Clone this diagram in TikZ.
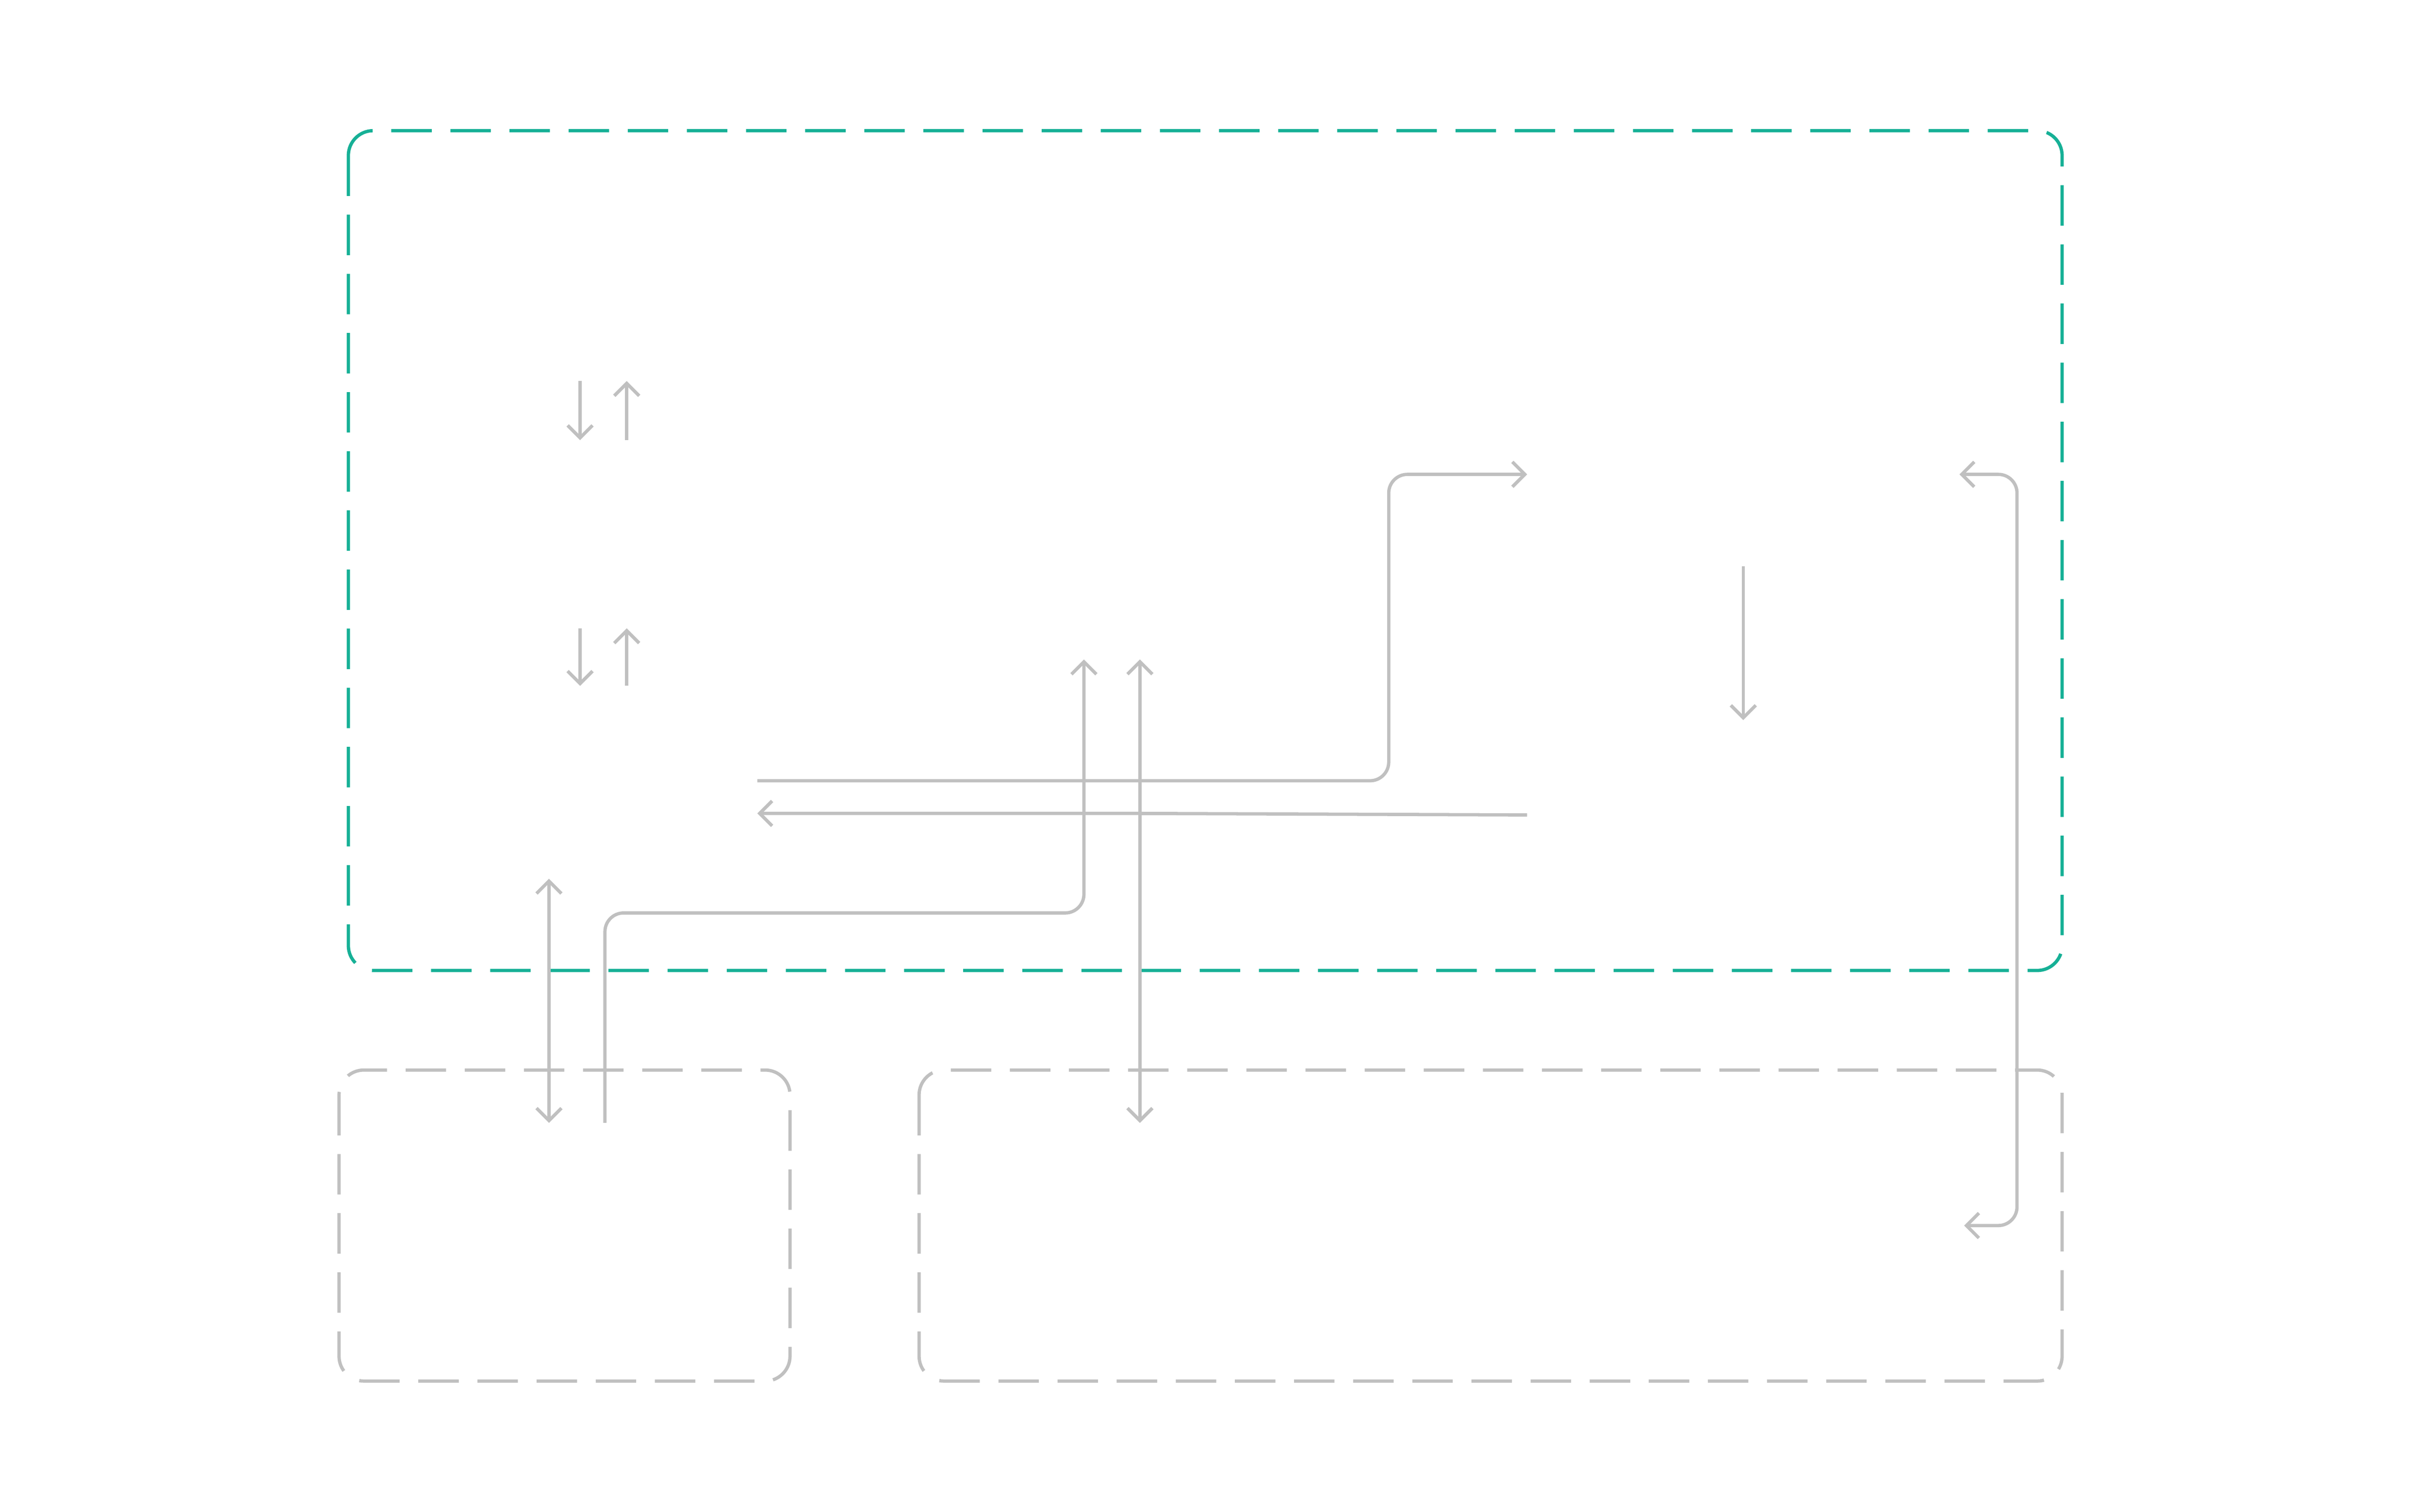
\documentclass[tikz,border=0pt]{standalone}
\usetikzlibrary{arrows.meta}
\definecolor{grn}{RGB}{22,176,150}
\definecolor{gry}{RGB}{192,192,192}
\begin{document}
\begin{tikzpicture}[x=0.01cm,y=-0.01cm,
  box/.style={line width=0.6pt, rounded corners=0.16cm, dash pattern=on 0.26cm off 0.12cm},
  con/.style={gry, line width=0.6pt, rounded corners=0.12cm},
  tip/.style={arrows={-{Straight Barb[length=0.08cm,width=0.16cm]}}},
  dtip/.style={arrows={{Straight Barb[length=0.08cm,width=0.16cm]}-{Straight Barb[length=0.08cm,width=0.16cm]}}}]
\useasboundingbox[fill=white] (0,0) rectangle (1560,972);
\draw[box,grn] (224,84) rectangle (1326,624);
\draw[box,gry] (218,688) rectangle (508,888);
\draw[box,gry] (591,688) rectangle (1326,888);
\coordinate (a1) at (373,245); \coordinate (a2) at (373,283);
\coordinate (b1) at (403,283); \coordinate (b2) at (403,245);
\coordinate (c1) at (373,404); \coordinate (c2) at (373,441);
\coordinate (d1) at (403,441); \coordinate (d2) at (403,404);
\draw[con,tip] (a1) -- (a2); \draw[con,tip] (b1) -- (b2);
\draw[con,tip] (c1) -- (c2); \draw[con,tip] (d1) -- (d2);
\coordinate (e1) at (353,565); \coordinate (e2) at (353,722);
\draw[con,dtip] (e1) -- (e2);
\coordinate (f1) at (389,722); \coordinate (f2) at (697,424);
\draw[con,tip] (f1) |- (697,587) -- (f2);
\coordinate (g1) at (733,424); \coordinate (g2) at (733,722);
\draw[con,dtip] (g1) -- (g2);
\coordinate (h1) at (487,502); \coordinate (h2) at (982,305);
\draw[con,tip] (h1) -- (893,502) -- (893,305) -- (h2);
\coordinate (i1) at (982,524); \coordinate (i2) at (487,523);
\draw[con,tip] (i1) -- (733,523) -- (i2);
\coordinate (j1) at (1121,364); \coordinate (j2) at (1121,463);
\draw[con,tip] (j1) -- (j2);
\coordinate (k1) at (1260,305); \coordinate (k2) at (1263,788);
\draw[con,dtip] (k1) -- (1297,305) -- (1297,788) -- (k2);
\end{tikzpicture}
\end{document}
